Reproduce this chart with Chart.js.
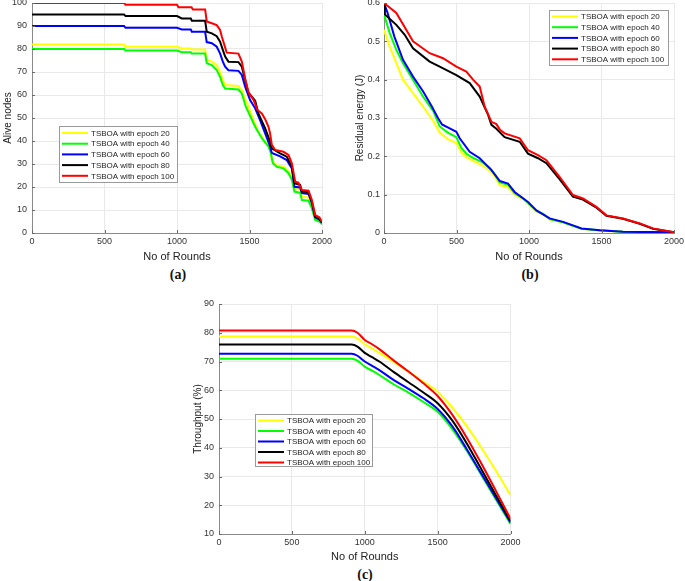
<!DOCTYPE html>
<html>
<head>
<meta charset="utf-8">
<script src="https://cdn.jsdelivr.net/npm/chart.js@4.4.1/dist/chart.umd.min.js"></script>
<style>
  html, body { margin: 0; padding: 0; background: #fff; overflow: hidden; width: 685px; height: 581px; }
  .pane { position: absolute; }
  .sub { position: absolute; font-family: "Liberation Serif", "Times New Roman", serif; font-weight: bold; font-size: 14px; color: #111; transform: translate(-50%, -50%); white-space: nowrap; }
</style>
</head>
<body>
<div class="pane" style="left:0px;top:-10px;width:340px;height:274px;"><canvas id="cA" width="340" height="274"></canvas></div>
<div class="pane" style="left:340px;top:-10px;width:360px;height:274px;"><canvas id="cB" width="360" height="274"></canvas></div>
<div class="pane" style="left:170px;top:291px;width:360px;height:273px;"><canvas id="cC" width="360" height="273"></canvas></div>
<div class="sub" style="left:178px;top:275px;">(a)</div>
<div class="sub" style="left:530px;top:275px;">(b)</div>
<div class="sub" style="left:365px;top:575px;">(c)</div>
<script>
// ---------- shared labels ----------
const seriesLabels = ["TSBOA with epoch 20", "TSBOA with epoch 40", "TSBOA with epoch 60", "TSBOA with epoch 80", "TSBOA with epoch 100"];
const seriesColors = ["#ffff00", "#00ff00", "#0000ff", "#000000", "#ff0000"];
const roundTicks = [0, 500, 1000, 1500, 2000];
const xTitle = "No of Rounds";

// ---------- (a) Alive nodes ----------
const aliveEpoch20 = [[0,82],[635,82],[645,81],[1000,81],[1033,80.2],[1095,80.2],[1102,79.8],[1194,79.8],[1205,75.5],[1240,74.5],[1274,73],[1297,70.1],[1316,66.5],[1332,64.3],[1424,63.9],[1447,62.1],[1470,57.8],[1481,57],[1504,53],[1527,49.1],[1561,44],[1608,39.7],[1642,37.5],[1654,31.7],[1677,29.6],[1734,28.8],[1769,26.7],[1792,23.8],[1810,19.4],[1849,18.7],[1861,15.8],[1907,15.5],[1930,12.2],[1953,6.4],[1982,5.4],[2000,4]];
const aliveEpoch40 = [[0,80],[635,80],[645,79.3],[1000,79.3],[1033,78.6],[1095,78.6],[1102,78],[1194,78],[1205,73.8],[1240,73],[1274,70.8],[1297,67.9],[1316,64.3],[1332,62.8],[1424,62.4],[1447,60.7],[1474,55],[1504,51],[1539,46.2],[1585,41.2],[1631,37.5],[1647,34.8],[1661,30.3],[1688,28.8],[1734,28.1],[1769,26],[1792,23.2],[1810,18],[1849,17.5],[1861,14.3],[1907,14],[1930,10.7],[1953,5.7],[1982,5],[2000,3.8]];
const aliveEpoch60 = [[0,90],[635,90],[645,89.2],[1000,89.2],[1033,88.5],[1095,88.5],[1102,87.5],[1194,87.5],[1205,83],[1240,82.5],[1274,81],[1297,78.1],[1316,74.5],[1332,72.3],[1355,70.8],[1424,70.5],[1447,68.7],[1470,63.6],[1504,57.8],[1539,54.2],[1573,49.1],[1608,43.3],[1638,38.3],[1654,34.8],[1711,33.3],[1757,31.7],[1792,28.1],[1810,20.1],[1849,19.8],[1861,17.4],[1907,17],[1930,13],[1953,6.8],[1982,5.8],[2000,4.5]];
const aliveEpoch80 = [[0,95],[635,95],[645,94.3],[1000,94.3],[1033,93.3],[1095,93.3],[1102,92.3],[1194,92.3],[1205,87.5],[1240,86.8],[1274,85.6],[1297,83.2],[1316,79.6],[1332,76.7],[1355,74.5],[1424,74.3],[1447,72.3],[1470,66.5],[1493,61],[1539,57.5],[1561,52],[1608,45.5],[1638,40.4],[1654,36.8],[1711,34.6],[1757,33.2],[1792,28.8],[1810,21.6],[1849,20.9],[1861,18],[1907,17.8],[1930,13.6],[1953,7.1],[1982,6.1],[2000,4.5]];
const aliveEpoch100 = [[0,100],[635,100],[645,99.2],[1000,99.2],[1010,98.2],[1100,98.2],[1110,97.2],[1194,97.2],[1205,92],[1240,91.2],[1274,90.4],[1297,88.3],[1309,85.4],[1327,81.7],[1343,78.4],[1424,78],[1447,74.5],[1470,67.2],[1493,61],[1527,58],[1555,53.5],[1585,52],[1608,49.5],[1631,46.2],[1642,43.3],[1654,38.3],[1677,36.1],[1734,35.3],[1769,33.9],[1792,30.3],[1815,22.3],[1837,21.9],[1861,18.7],[1907,18.4],[1930,14.3],[1953,7.8],[1982,6.8],[2000,4.8]];
const aliveTicks = [0,10,20,30,40,50,60,70,80,90,100];

// ---------- (b) Residual energy ----------
const energyEpoch20 = [[0,0.53],[39,0.487],[85,0.443],[131,0.4],[200,0.365],[269,0.33],[338,0.293],[384,0.262],[440,0.245],[499,0.235],[533,0.21],[570,0.197],[614,0.188],[680,0.176],[729,0.162],[760,0.15],[798,0.125],[855,0.12],[901,0.1],[960,0.088],[993,0.077],[1051,0.056],[1100,0.047],[1143,0.035],[1235,0.027],[1303,0.018],[1362,0.011],[1488,0.006],[1648,0.003],[2000,0.002]];
const energyEpoch40 = [[0,0.57],[39,0.522],[85,0.478],[131,0.443],[200,0.4],[269,0.356],[340,0.318],[384,0.278],[440,0.262],[499,0.25],[533,0.222],[570,0.206],[614,0.196],[680,0.184],[729,0.17],[760,0.155],[798,0.132],[855,0.126],[901,0.104],[960,0.09],[993,0.079],[1051,0.058],[1100,0.049],[1143,0.036],[1235,0.028],[1303,0.019],[1362,0.011],[1488,0.007],[1648,0.003],[2000,0.002]];
const energyEpoch60 = [[0,0.6],[25,0.574],[71,0.513],[131,0.452],[200,0.408],[269,0.37],[330,0.33],[372,0.3],[400,0.283],[453,0.273],[499,0.264],[522,0.247],[591,0.212],[660,0.195],[741,0.164],[798,0.136],[855,0.129],[901,0.107],[993,0.081],[1051,0.059],[1143,0.038],[1235,0.029],[1303,0.02],[1362,0.012],[1488,0.007],[1648,0.003],[2000,0.002]];
const energyEpoch80 = [[0,0.6],[6,0.57],[85,0.543],[143,0.517],[200,0.482],[315,0.447],[384,0.434],[499,0.412],[591,0.391],[660,0.356],[718,0.308],[741,0.282],[775,0.272],[832,0.25],[936,0.238],[993,0.207],[1062,0.195],[1120,0.182],[1212,0.14],[1303,0.095],[1372,0.087],[1465,0.066],[1534,0.045],[1648,0.037],[1764,0.024],[1855,0.011],[1948,0.005],[2000,0.002]];
const energyEpoch100 = [[0,0.6],[85,0.574],[200,0.5],[315,0.469],[407,0.456],[499,0.434],[568,0.421],[614,0.4],[660,0.382],[694,0.33],[741,0.29],[775,0.284],[800,0.269],[832,0.26],[936,0.247],[993,0.216],[1062,0.203],[1120,0.19],[1212,0.146],[1303,0.099],[1372,0.09],[1465,0.068],[1534,0.046],[1648,0.038],[1764,0.025],[1855,0.012],[1948,0.005],[2000,0.002]];
const energyTicks = [0,0.1,0.2,0.3,0.4,0.5,0.6];

// ---------- (c) Throughput ----------
const thrRounds = [0,910,950,1000,1050,1100,1200,1300,1400,1500,1600,1700,1800,1900,2000];
const thrEpoch20 = [78.7,78.7,78.0,76.0,74.5,73.0,69.8,66.5,63.0,59.5,54.0,47.5,40.0,32.0,23.5];
const thrEpoch40 = [71.0,71.0,70.3,68.2,66.8,65.3,62.0,59.2,56.0,52.5,46.5,39.0,30.5,22.0,13.5];
const thrEpoch60 = [72.7,72.7,72.0,70.0,68.5,67.0,63.5,60.5,57.3,53.5,47.5,39.5,31.0,22.5,14.0];
const thrEpoch80 = [75.9,75.9,75.2,73.0,71.5,70.0,66.3,62.8,59.3,55.5,49.5,41.5,32.5,23.5,14.5];
const thrEpoch100 = [80.8,80.8,80.0,77.5,76.0,74.3,70.3,66.5,62.5,58.0,51.5,43.5,34.5,25.0,15.3];
const thrTicks = [10,20,30,40,50,60,70,80,90];

// ---------- helpers ----------
const FONT = "'Liberation Sans', Arial, Helvetica, sans-serif";
Chart.defaults.font.family = FONT;
Chart.defaults.color = "#333";

function pairs(arr) { return arr.map(p => ({x: p[0], y: p[1]})); }
function zip(xs, ys) { return xs.map((x, i) => ({x: x, y: ys[i]})); }

function makeDatasets(list, extra) {
  return list.map((d, i) => Object.assign({
    label: seriesLabels[i],
    data: d,
    borderColor: seriesColors[i],
    backgroundColor: seriesColors[i],
    borderWidth: 2,
    pointRadius: 0,
    fill: false,
    tension: 0,
    order: 4 - i
  }, extra || {}));
}

// inward tick marks (MATLAB style)
const innerTicks = {
  id: 'innerTicks',
  afterDatasetsDraw(chart) {
    const ctx = chart.ctx, a = chart.chartArea;
    const xs = chart.scales.x, ys = chart.scales.y;
    ctx.save();
    ctx.strokeStyle = '#6a6a6a';
    ctx.lineWidth = 1;
    ctx.beginPath();
    xs.ticks.forEach(t => {
      const px = Math.round(xs.getPixelForValue(t.value)) + 0.5;
      ctx.moveTo(px, a.bottom); ctx.lineTo(px, a.bottom - 3);
    });
    ys.ticks.forEach(t => {
      const py = Math.round(ys.getPixelForValue(t.value)) + 0.5;
      ctx.moveTo(a.left, py); ctx.lineTo(a.left + 3, py);
    });
    ctx.stroke();
    ctx.restore();
  }
};

const boxLegend = {
  id: 'boxLegend',
  afterDatasetsDraw(chart, args, opts) {
    const ctx = chart.ctx, a = chart.chartArea;
    const x = a.left + opts.x, y = a.top + opts.y;
    ctx.save();
    ctx.fillStyle = '#fff';
    ctx.fillRect(x, y, opts.w, opts.h);
    ctx.strokeStyle = '#9a9a9a';
    ctx.lineWidth = 1;
    ctx.strokeRect(Math.round(x) + 0.5, Math.round(y) + 0.5, opts.w, opts.h);
    ctx.font = opts.fontSize + 'px ' + FONT;
    ctx.textBaseline = 'middle';
    chart.data.datasets.forEach((ds, i) => {
      const cy = y + opts.first + i * opts.step;
      ctx.strokeStyle = ds.borderColor;
      ctx.lineWidth = 2;
      ctx.beginPath();
      ctx.moveTo(x + 3, cy);
      ctx.lineTo(x + 29, cy);
      ctx.stroke();
      ctx.fillStyle = '#222';
      ctx.fillText(ds.label, x + 32, cy + 0.5);
    });
    ctx.restore();
  }
};

function makeOptions(cfg) {
  return {
    responsive: false,
    animation: false,
    devicePixelRatio: 1,
    layout: { padding: cfg.padding },
    plugins: {
      legend: { display: false },
      tooltip: { enabled: false },
      boxLegend: cfg.legend
    },
    scales: {
      x: {
        type: 'linear',
        min: 0, max: 2000,
        afterBuildTicks: s => { s.ticks = roundTicks.map(v => ({value: v})); },
        afterFit: s => { s.height = cfg.xHeight; },
        ticks: { font: {size: 9}, padding: 3, color: '#333', callback: v => String(v), maxRotation: 0 },
        grid: { color: '#e9e9e9', drawTicks: false, lineWidth: 1 },
        border: { display: true, color: '#8a8a8a', width: 1 },
        title: { display: true, text: xTitle, font: {size: 11}, color: '#222', padding: {top: 0, bottom: 0} }
      },
      y: {
        type: 'linear',
        min: cfg.yMin, max: cfg.yMax,
        afterBuildTicks: s => { s.ticks = cfg.yTicks.map(v => ({value: v})); },
        afterFit: s => { s.width = cfg.yWidth; },
        ticks: { font: {size: 9}, padding: cfg.yTickPad, color: '#333', callback: v => String(v) },
        grid: { color: '#e9e9e9', drawTicks: false, lineWidth: 1 },
        border: { display: true, color: '#8a8a8a', width: 1 },
        title: { display: true, text: cfg.yTitle, font: {size: 10}, color: '#222', padding: {top: cfg.yTitlePad, bottom: 0} }
      }
    }
  };
}

// ---------- chart (a) ----------
new Chart(document.getElementById('cA'), {
  type: 'line',
  data: { datasets: makeDatasets([aliveEpoch20, aliveEpoch40, aliveEpoch60, aliveEpoch80, aliveEpoch100].map(pairs)) },
  options: makeOptions({
    padding: {top: 13, right: 18, bottom: 0, left: 0},
    xHeight: 31, yWidth: 32, yTickPad: 5, yTitlePad: 2,
    yMin: 0, yMax: 100, yTicks: aliveTicks, yTitle: 'Alive nodes',
    legend: {x: 27, y: 123, w: 118, h: 56, first: 7, step: 10.7, fontSize: 8}
  }),
  plugins: [innerTicks, boxLegend]
});

// ---------- chart (b) ----------
new Chart(document.getElementById('cB'), {
  type: 'line',
  data: { datasets: makeDatasets([energyEpoch20, energyEpoch40, energyEpoch60, energyEpoch80, energyEpoch100].map(pairs)) },
  options: makeOptions({
    padding: {top: 13, right: 26, bottom: 0, left: 0},
    xHeight: 31, yWidth: 44, yTickPad: 4, yTitlePad: 14,
    yMin: 0, yMax: 0.6, yTicks: energyTicks, yTitle: 'Residual energy (J)',
    legend: {x: 165, y: 7, w: 119, h: 55, first: 6.5, step: 10.7, fontSize: 8}
  }),
  plugins: [innerTicks, boxLegend]
});

// ---------- chart (c) ----------
new Chart(document.getElementById('cC'), {
  type: 'line',
  data: { datasets: makeDatasets([thrEpoch20, thrEpoch40, thrEpoch60, thrEpoch80, thrEpoch100].map(ys => zip(thrRounds, ys)), {cubicInterpolationMode: 'monotone'}) },
  options: makeOptions({
    padding: {top: 13, right: 19.5, bottom: 0, left: 0},
    xHeight: 30, yWidth: 49, yTickPad: 5, yTitlePad: 22,
    yMin: 10, yMax: 90, yTicks: thrTicks, yTitle: 'Throughput (%)',
    legend: {x: 36, y: 110, w: 117, h: 52, first: 6.5, step: 10.5, fontSize: 8}
  }),
  plugins: [innerTicks, boxLegend]
});
</script>
</body>
</html>
